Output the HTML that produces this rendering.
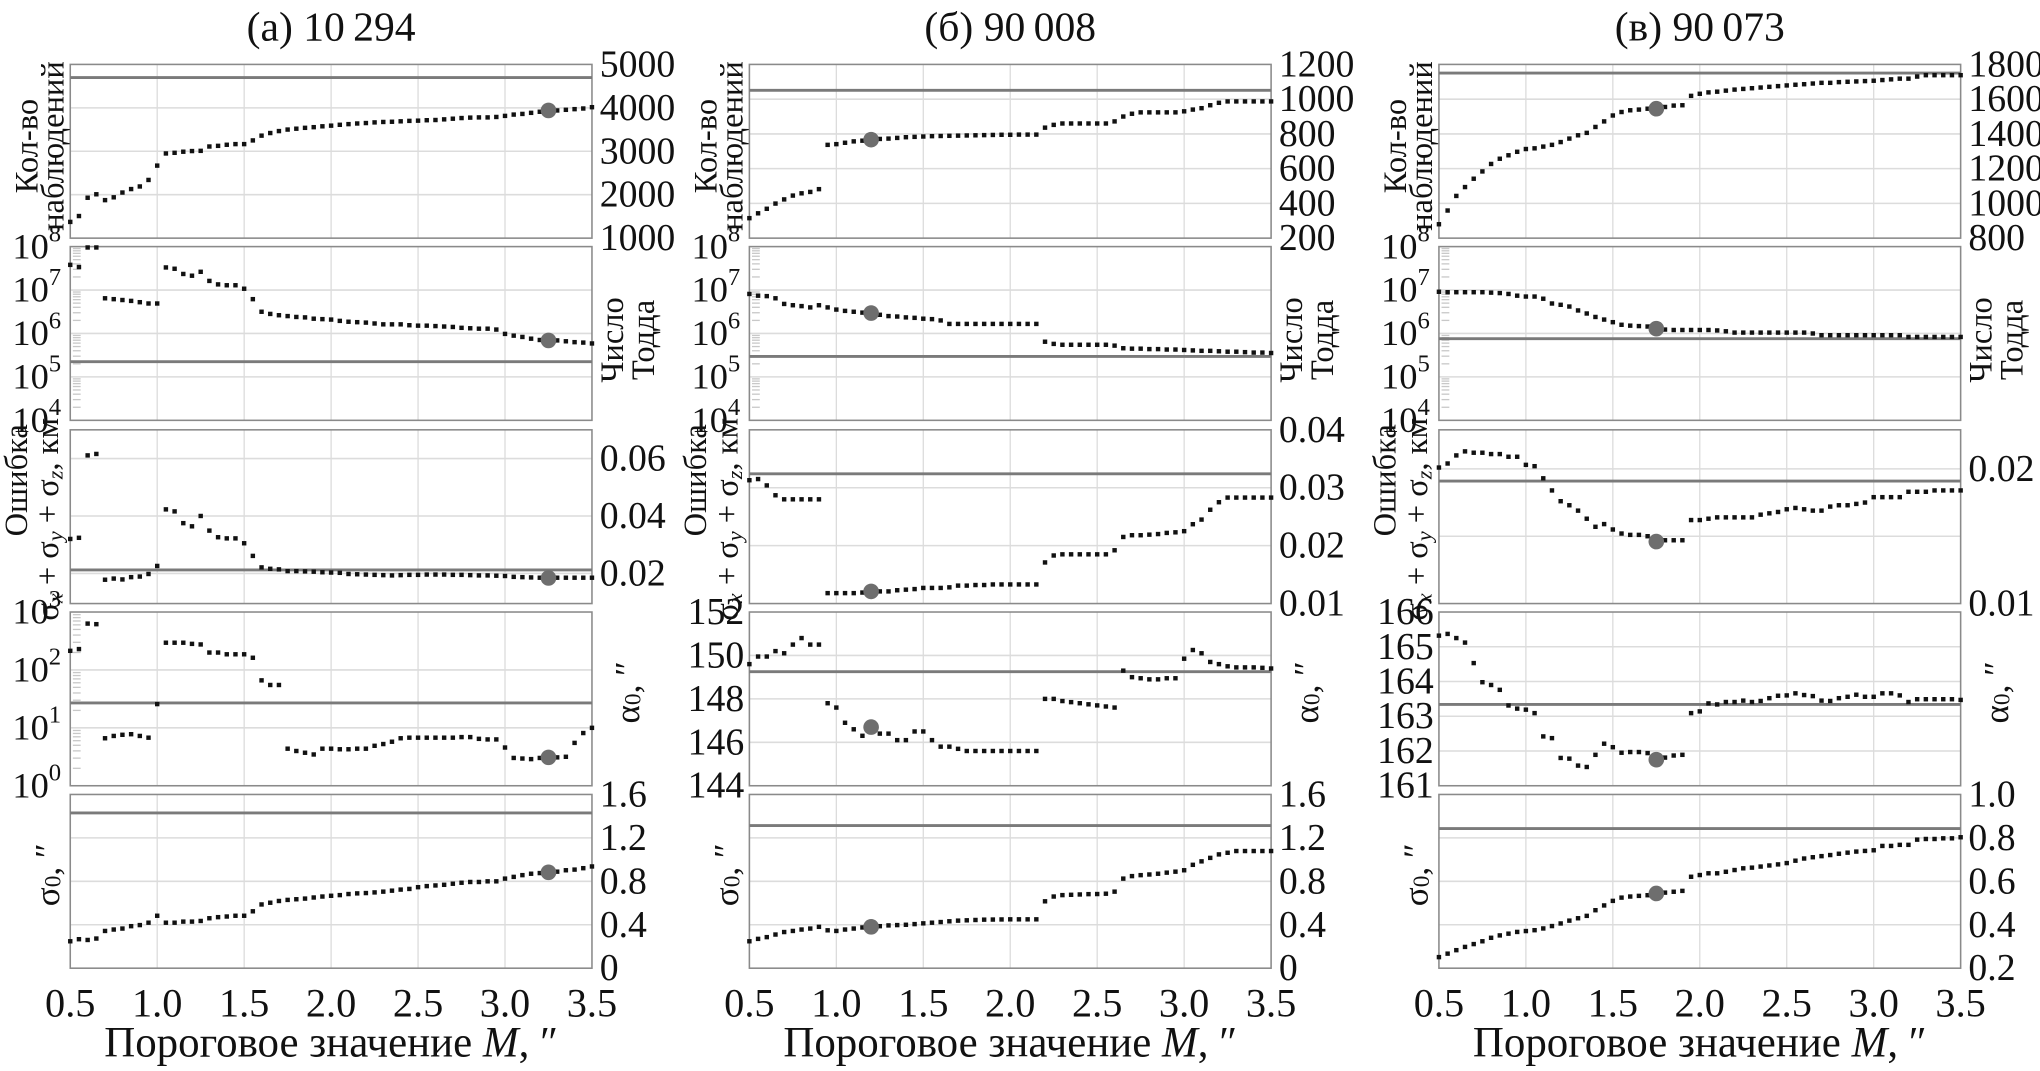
<!DOCTYPE html>
<html><head><meta charset="utf-8"><style>
html,body{margin:0;padding:0;background:#fff;}
svg{display:block;}
svg text{font-family:"Liberation Serif","Times New Roman",serif;}
</style></head><body>
<svg id="chart" xmlns="http://www.w3.org/2000/svg" width="2040" height="1071" viewBox="0 0 1568 823" preserveAspectRatio="none" font-family="Liberation Serif, serif"></svg>
<script>
const xs=[0.5,0.55,0.6,0.65,0.7,0.75,0.8,0.85,0.9,0.95,1.0,1.05,1.1,1.15,1.2,1.25,1.3,1.35,1.4,1.45,1.5,1.55,1.6,1.65,1.7,1.75,1.8,1.85,1.9,1.95,2.0,2.05,2.1,2.15,2.2,2.25,2.3,2.35,2.4,2.45,2.5,2.55,2.6,2.65,2.7,2.75,2.8,2.85,2.9,2.95,3.0,3.05,3.1,3.15,3.2,3.25,3.3,3.35,3.4,3.45,3.5];
const xTicks=[0.5,1.0,1.5,2.0,2.5,3.0,3.5];
const xTickLabels=["0.5","1.0","1.5","2.0","2.5","3.0","3.5"];
// column a: 10294
const countA=[1374,1509,1930,2010,1875,1940,2050,2130,2190,2340,2670,2950,2965,2990,3005,3010,3110,3125,3150,3165,3165,3250,3360,3420,3465,3500,3520,3540,3555,3575,3590,3610,3625,3640,3650,3665,3675,3680,3690,3700,3705,3715,3720,3735,3750,3765,3775,3780,3780,3790,3815,3845,3860,3885,3910,3940,3940,3955,3970,3985,4015];
const toddExpA=[7.58,7.53,7.98,7.98,6.81,6.79,6.77,6.75,6.72,6.69,6.69,7.52,7.49,7.37,7.33,7.42,7.21,7.13,7.11,7.11,7.03,6.79,6.50,6.45,6.42,6.40,6.38,6.37,6.34,6.33,6.32,6.29,6.27,6.26,6.25,6.23,6.21,6.21,6.21,6.19,6.18,6.18,6.17,6.16,6.15,6.13,6.12,6.11,6.11,6.09,5.99,5.95,5.92,5.88,5.85,5.84,5.84,5.82,5.80,5.79,5.77];
const errA=[.0320,.0324,.0611,.0616,.0178,.0182,.0179,.0187,.0189,.0198,.0226,.0423,.0416,.0375,.0364,.0400,.0349,.0326,.0322,.0322,.0305,.0261,.0221,.0216,.0214,.0208,.0208,.0207,.0206,.0204,.0203,.0202,.0198,.0197,.0196,.0195,.0194,.0193,.0194,.0195,.0195,.0196,.0196,.0196,.0195,.0195,.0194,.0193,.0193,.0192,.0191,.0188,.0187,.0186,.0185,.0184,.0185,.0185,.0185,.0185,.0185];
const alphaExpA=[2.33,2.36,2.80,2.79,0.82,0.86,0.88,0.89,0.86,0.83,1.41,2.47,2.47,2.47,2.45,2.44,2.30,2.30,2.27,2.27,2.27,2.21,1.82,1.74,1.74,0.64,0.60,0.57,0.54,0.64,0.64,0.63,0.63,0.64,0.64,0.69,0.72,0.76,0.82,0.83,0.83,0.83,0.83,0.83,0.83,0.84,0.84,0.81,0.80,0.80,0.66,0.48,0.47,0.46,0.48,0.49,0.49,0.50,0.74,0.91,1.00];
const sigmaA=[.248,.267,.260,.273,.343,.356,.365,.387,.397,.419,.483,.419,.419,.429,.429,.435,.460,.470,.476,.483,.483,.524,.587,.603,.619,.629,.635,.641,.651,.660,.667,.673,.683,.689,.692,.698,.705,.714,.724,.730,.746,.756,.762,.768,.778,.787,.794,.794,.800,.800,.825,.841,.857,.870,.876,.883,.889,.902,.908,.921,.937];
const refA=[4698,5.35,0.0212,1.43,1.43];
// column b: 90008
const countB=[315,343,369,399,423,445,458,466,482,737,741,749,757,761,767,771,773,777,781,783,785,787,788,789,790,791,792,793,794,795,795,796,796,796,836,852,860,860,860,860,860,860,872,900,916,924,924,924,924,924,930,940,948,965,979,987,987,987,987,987,987];
const toddExpB=[6.91,6.87,6.86,6.81,6.68,6.65,6.63,6.60,6.65,6.60,6.55,6.52,6.50,6.48,6.47,6.43,6.40,6.39,6.37,6.36,6.34,6.33,6.30,6.22,6.22,6.22,6.22,6.22,6.22,6.22,6.22,6.22,6.22,6.22,5.81,5.76,5.74,5.74,5.74,5.74,5.74,5.74,5.72,5.66,5.65,5.65,5.64,5.64,5.63,5.63,5.62,5.61,5.60,5.60,5.59,5.58,5.58,5.57,5.56,5.56,5.55];
const errB=[.0313,.0315,.0304,.0287,.0280,.0280,.0280,.0280,.0280,.0118,.0118,.0118,.0118,.0119,.0121,.0121,.0121,.0123,.0124,.0125,.0127,.0127,.0127,.0128,.0131,.0131,.0132,.0132,.0133,.0133,.0133,.0133,.0133,.0133,.0171,.0183,.0185,.0185,.0185,.0185,.0185,.0185,.0192,.0215,.0218,.0218,.0219,.0220,.0222,.0223,.0225,.0237,.0245,.0262,.0275,.0283,.0283,.0283,.0283,.0283,.0283];
const alphaB=[149.6,149.95,149.95,150.2,150.1,150.5,150.8,150.5,150.5,147.8,147.6,146.9,146.6,146.3,146.7,146.4,146.4,146.1,146.1,146.5,146.5,146.1,145.8,145.8,145.7,145.6,145.6,145.6,145.6,145.6,145.6,145.6,145.6,145.6,148.0,148.0,147.9,147.85,147.8,147.75,147.7,147.65,147.6,149.3,149.0,148.95,148.9,148.9,148.95,148.95,149.85,150.25,150.1,149.7,149.6,149.5,149.45,149.45,149.45,149.43,149.4];
const sigmaB=[.248,.270,.286,.310,.333,.343,.356,.365,.381,.349,.343,.356,.365,.375,.381,.387,.394,.397,.400,.406,.413,.419,.425,.432,.438,.441,.444,.447,.448,.449,.450,.450,.450,.450,.616,.660,.673,.676,.679,.682,.683,.686,.705,.825,.848,.857,.863,.870,.880,.889,.902,.952,.984,1.016,1.048,1.063,1.079,1.079,1.079,1.079,1.079];
const refB=[1051,5.47,0.0324,149.25,1.314];
// column c: 90073
const countC=[880,959,1043,1094,1142,1184,1227,1257,1277,1297,1313,1317,1327,1337,1353,1373,1392,1406,1440,1472,1506,1526,1536,1540,1545,1545,1555,1563,1565,1619,1631,1639,1643,1649,1655,1659,1663,1667,1671,1675,1679,1683,1686,1690,1694,1694,1698,1700,1702,1704,1706,1710,1714,1718,1718,1730,1738,1738,1738,1738,1738];
const toddExpC=[6.96,6.95,6.95,6.95,6.95,6.95,6.94,6.93,6.91,6.87,6.85,6.85,6.80,6.69,6.66,6.62,6.53,6.46,6.38,6.32,6.26,6.20,6.18,6.17,6.16,6.11,6.09,6.08,6.08,6.08,6.08,6.08,6.07,6.05,6.02,6.02,6.02,6.02,6.02,6.02,6.02,6.02,6.02,6.00,5.96,5.96,5.96,5.96,5.96,5.96,5.96,5.96,5.96,5.96,5.92,5.92,5.92,5.92,5.92,5.92,5.92];
const errC=[.0201,.0204,.0210,.0213,.0212,.0212,.0211,.0211,.0209,.0209,.0203,.0202,.0193,.0184,.0176,.0173,.0169,.0163,.0157,.0159,.0155,.0152,.0151,.0151,.0150,.0146,.0147,.0147,.0147,.0162,.0162,.0163,.0164,.0164,.0164,.0164,.0164,.0166,.0167,.0168,.0170,.0171,.0170,.0169,.0169,.0172,.0173,.0173,.0174,.0175,.0179,.0179,.0179,.0179,.0183,.0183,.0183,.0184,.0184,.0184,.0184];
const alphaC=[165.32,165.37,165.25,165.12,164.53,163.98,163.90,163.76,163.31,163.22,163.19,163.09,162.42,162.37,161.80,161.78,161.58,161.54,161.89,162.21,162.11,161.95,161.97,161.97,161.94,161.75,161.81,161.87,161.89,163.09,163.14,163.37,163.34,163.41,163.41,163.45,163.41,163.44,163.52,163.59,163.60,163.66,163.61,163.58,163.45,163.44,163.52,163.56,163.62,163.56,163.56,163.66,163.66,163.60,163.41,163.49,163.49,163.49,163.49,163.49,163.47];
const sigmaC=[.251,.267,.283,.298,.311,.324,.340,.351,.359,.367,.371,.375,.383,.394,.406,.419,.430,.441,.467,.489,.510,.525,.530,.533,.536,.544,.548,.552,.556,.621,.629,.637,.637,.644,.652,.660,.663,.668,.673,.678,.684,.695,.705,.711,.716,.721,.727,.732,.737,.740,.743,.763,.763,.768,.768,.792,.795,.795,.798,.798,.803];
const refC=[1750,5.88,0.0191,163.34,0.843];
const highlightIdx=[55,14,25];
const titles=["(а) 10\u2009294","(б) 90\u2009008","(в) 90\u2009073"];
const countTicksA=[1000,2000,3000,4000,5000];
const countTicksB=[200,400,600,800,1000,1200];
const countTicksC=[800,1000,1200,1400,1600,1800];
const toddTickExps=[4,5,6,7,8];
const errTicksA=[0.02,0.04,0.06];
const errTicksB=[0.01,0.02,0.03,0.04];
const errTicksC=[0.01,0.02];
const errGridC=[0.015,0.02];
const alphaTickExpsA=[0,1,2,3];
const alphaTicksB=[144,146,148,150,152];
const alphaTicksC=[161,162,163,164,165,166];
const sigmaTicksAB=[0,0.4,0.8,1.2,1.6];
const sigmaTicksC=[0.2,0.4,0.6,0.8,1.0];

const NS="http://www.w3.org/2000/svg";
const svg=document.getElementById('chart');
const FF="Liberation Serif, Times New Roman, serif";
function mk(tag,attrs,parent){const e=document.createElementNS(NS,tag);for(const k in attrs)e.setAttribute(k,attrs[k]);if(tag==='text')e.setAttribute('font-family',FF);(parent||svg).appendChild(e);return e;}
function lin(d0,d1,r0,r1){return v=>r0+(v-d0)/(d1-d0)*(r1-r0);}

const colX=[54,576,1106], PW=401;
const rowY=[49.5,189.5,330.3,470.3,610.5], PH=133.5;

const cols=[
 {count:countA,todd:toddExpA,err:errA,alpha:alphaExpA,sigma:sigmaA,ref:refA,
  dom:[[1000,5000],[4,8],[0.0095,0.070],[0,3],[0,1.6]],
  ticks:[countTicksA,toddTickExps,errTicksA,alphaTickExpsA,sigmaTicksAB],grids:[countTicksA,toddTickExps,errTicksA,alphaTickExpsA,sigmaTicksAB],
  logAlpha:true,dec:[0,0,2,0,1]},
 {count:countB,todd:toddExpB,err:errB,alpha:alphaB,sigma:sigmaB,ref:refB,
  dom:[[200,1200],[4,8],[0.01,0.04],[144,152],[0,1.6]],
  ticks:[countTicksB,toddTickExps,errTicksB,alphaTicksB,sigmaTicksAB],grids:[countTicksB,toddTickExps,errTicksB,alphaTicksB,sigmaTicksAB],
  logAlpha:false,dec:[0,0,2,0,1]},
 {count:countC,todd:toddExpC,err:errC,alpha:alphaC,sigma:sigmaC,ref:refC,
  dom:[[800,1800],[4,8],[0.01,0.0229],[161,166],[0.2,1.0]],
  ticks:[countTicksC,toddTickExps,errTicksC,alphaTicksC,sigmaTicksC],grids:[countTicksC,toddTickExps,errGridC,alphaTicksC,sigmaTicksC],
  logAlpha:false,dec:[0,0,2,0,1]}
];
const rowNames=['observations','todd-number','position-error','alpha0','sigma0'];

function fmt(v,d){ if(v===0) return "0"; return v.toFixed(d); }

function rotText(str,x,y,size,name,parts){
  const t=mk('text',{x:0,y:0,'font-size':size,'text-anchor':'middle','dominant-baseline':'central',transform:`translate(${x},${y}) rotate(-90)`,fill:'#111'});
  
  
  if(parts){parts.forEach(p=>{const s=mk('tspan',p.a||{},t);s.textContent=p.t;});}
  else t.textContent=str;
  return t;
}

cols.forEach((c,ci)=>{
  const X0=colX[ci];
  const sx=lin(0.5,3.5,X0,X0+PW);
  const tt=mk('text',{x:X0+PW/2,y:31,'font-size':32,'text-anchor':'middle',fill:'#111'});
  
  
  tt.textContent=titles[ci];
  const series=[c.count,c.todd,c.err,c.alpha,c.sigma];
  for(let r=0;r<5;r++){
    const Y0=rowY[r];
    const sy=lin(c.dom[r][0],c.dom[r][1],Y0+PH,Y0);
    const g=mk('g',{});
    
    
    mk('rect',{x:X0,y:Y0,width:PW,height:PH,fill:'#fff',stroke:'none'},g);
    xTicks.slice(1,-1).forEach(v=>{
      const l=mk('line',{x1:sx(v),x2:sx(v),y1:Y0,y2:Y0+PH,stroke:'#dcdcdc','stroke-width':1},g);
      
      
    });
    c.grids[r].forEach(v=>{
      const y=sy(v); if(y<Y0+1||y>Y0+PH-1) return;
      const l=mk('line',{x1:X0,x2:X0+PW,y1:y,y2:y,stroke:'#dcdcdc','stroke-width':1.2},g);
      
      
    });
    const isLog=(r===1)||(r===3&&c.logAlpha);
    if(isLog){
      for(let e=c.dom[r][0];e<c.dom[r][1];e++){
        for(let m=2;m<10;m++){
          const y=sy(e+Math.log10(m));
          const l=mk('line',{x1:X0+2,x2:X0+8,y1:y,y2:y,stroke:'#c8c8c8','stroke-width':1},g);
          
          
        }
      }
    }
    const b=mk('rect',{x:X0,y:Y0,width:PW,height:PH,fill:'none',stroke:'#8a8a8a','stroke-width':1.2},g);
    
    
    const ry=sy(c.ref[r]);
    const rl=mk('line',{x1:X0,x2:X0+PW,y1:ry,y2:ry,stroke:'#7a7a7a','stroke-width':2.2},g);
    
    
    series[r].forEach((v,i)=>{
      if(v===null) return;
      const d=mk('rect',{x:sx(xs[i])-1.7,y:sy(v)-1.7,width:3.4,height:3.4,fill:'#111'},g);
      
      
    });
    const hi=highlightIdx[ci];
    const hc=mk('circle',{cx:sx(xs[hi]),cy:sy(series[r][hi]),r:6,fill:'#6e6e6e'},g);
    
    
    const rightTicks=(r===0||r===2||r===4);
    c.ticks[r].forEach(v=>{
      const y=sy(v);
      if(rightTicks){
        const t=mk('text',{x:X0+PW+6,y:y,'font-size':29,'dominant-baseline':'central',fill:'#111'});
        
        
        t.textContent=fmt(v,c.dec[r]);
      } else if(isLog){
        const t=mk('text',{x:X0-7,y:y+9,'font-size':28,'text-anchor':'end',fill:'#111'});
        
        
        const s1=mk('tspan',{},t); s1.textContent='10';
        const s2=mk('tspan',{'font-size':19,dy:-13},t); s2.textContent=String(v);
      } else {
        const t=mk('text',{x:X0-4,y:y,'font-size':29,'text-anchor':'end','dominant-baseline':'central',fill:'#111'});
        
        
        t.textContent=String(v);
      }
    });
  }
  const cy=i=>rowY[i]+PH/2;
  rotText('Кол-во',X0-33,cy(0)-4,25,'count-axis-title');
  rotText('наблюдений',X0-13,cy(0)-4,25,'count-axis-title');
  rotText('Число',X0+PW+16,cy(1)+5,25,'todd-axis-title');
  rotText('Тодда',X0+PW+40,cy(1)+5,25,'todd-axis-title');
  rotText('Ошибка',X0-41,cy(2)-28,25,'error-axis-title');
  rotText(null,X0-17,cy(2)+2,25,'error-axis-title',[
    {t:'σ'},{t:'x','a':{'font-size':17,'font-style':'italic',dy:5}},{t:' + σ','a':{dy:-5}},
    {t:'y','a':{'font-size':17,'font-style':'italic',dy:5}},{t:' + σ','a':{dy:-5}},
    {t:'z','a':{'font-size':17,'font-style':'italic',dy:5}},{t:', км','a':{dy:-5}}]);
  rotText(null,X0+PW+27,cy(3)-5,27,'alpha0-axis-title',[{t:'α'},{t:'0','a':{'font-size':18,dy:5}},{t:', ″','a':{dy:-5}}]);
  rotText(null,X0-18,cy(4)-5,27,'sigma0-axis-title',[{t:'σ'},{t:'0','a':{'font-size':18,dy:5}},{t:', ″','a':{dy:-5}}]);
  xTicks.forEach((v,i)=>{
    const t=mk('text',{x:sx(v),y:781,'font-size':31,'text-anchor':'middle',fill:'#111'});
    
    
    t.textContent=xTickLabels[i];
  });
  const xt=mk('text',{x:X0+PW/2,y:812,'font-size':33,'text-anchor':'middle',fill:'#111'});
  
  
  const p1=mk('tspan',{},xt); p1.textContent='Пороговое значение ';
  const p2=mk('tspan',{'font-style':'italic'},xt); p2.textContent='M';
  const p3=mk('tspan',{},xt); p3.textContent=', ″';
});
</script>
</body></html>
